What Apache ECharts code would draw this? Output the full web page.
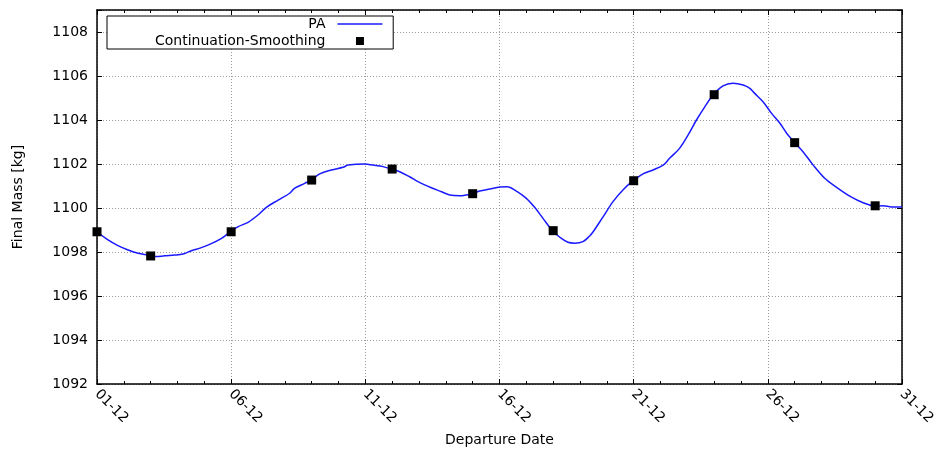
<!DOCTYPE html>
<html>
<head>
<meta charset="utf-8">
<title>Final Mass vs Departure Date</title>
<script src="https://cdn.jsdelivr.net/npm/echarts@6/dist/echarts.min.js"></script>
<style>
  html, body { margin: 0; padding: 0; background: #fff; }
  #chart { width: 941px; height: 457px; }
</style>
</head>
<body>
<div id="chart"></div>
<script>
// PA solution: departure day offset from 01-12 and final mass [kg]
var dayPA = [
  0.00, 0.41, 0.78, 1.16, 1.53, 1.90, 2.21, 2.52, 2.89, 3.21, 3.52, 3.89, 4.26, 4.64, 4.95,
  5.26, 5.63, 6.00, 6.31, 6.75, 7.18, 7.37, 7.74, 7.99, 8.30, 8.74, 9.17, 9.36, 9.98, 10.29,
  10.66, 10.97, 11.28, 11.65, 11.96, 12.21, 12.46, 12.84, 13.15, 13.52, 13.99, 14.26, 14.64,
  15.01, 15.28, 15.63, 16.00, 16.31, 16.62, 16.97, 17.25, 17.55, 17.80, 18.11, 18.36, 18.49,
  18.86, 19.23, 19.60, 19.97, 20.35, 20.72, 21.10, 21.34, 21.71, 22.03, 22.34, 22.65, 22.96,
  23.33, 23.70, 24.08, 24.33, 24.51, 24.82, 25.14, 25.45, 25.70, 26.00, 26.31, 26.69, 27.12,
  27.56, 28.12, 28.55, 28.99, 29.30, 29.61, 30.00
];
var massPA = [
  1098.92, 1098.55, 1098.29, 1098.09, 1097.94, 1097.86, 1097.79, 1097.83, 1097.86, 1097.91,
  1098.06, 1098.20, 1098.38, 1098.62, 1098.90, 1099.15, 1099.35, 1099.68, 1100.03, 1100.36,
  1100.67, 1100.90, 1101.12, 1101.27, 1101.55, 1101.73, 1101.85, 1101.95, 1102.00, 1101.95,
  1101.88, 1101.77, 1101.65, 1101.42, 1101.20, 1101.05, 1100.92, 1100.74, 1100.59, 1100.56,
  1100.65, 1100.77, 1100.86, 1100.95, 1100.97, 1100.77, 1100.44, 1100.03, 1099.53, 1098.97,
  1098.67, 1098.44, 1098.40, 1098.47, 1098.73, 1098.92, 1099.60, 1100.29, 1100.82, 1101.23,
  1101.55, 1101.73, 1101.95, 1102.26, 1102.71, 1103.32, 1104.00, 1104.60, 1105.14, 1105.55,
  1105.67, 1105.59, 1105.44, 1105.21, 1104.83, 1104.30, 1103.85, 1103.40, 1102.97, 1102.56,
  1101.95, 1101.35, 1100.94, 1100.49, 1100.24, 1100.09, 1100.10, 1100.05, 1100.05
];

// Continuation-smoothing solutions
var dayCS = [0, 2, 5, 8, 11, 14, 17, 20, 23, 26, 29];
var massCS = [1098.92, 1097.82, 1098.92, 1101.27, 1101.77, 1100.65, 1098.97, 1101.24, 1105.15, 1102.97, 1100.10];

// Axis tick labels
var xTickLabels = ['01-12', '06-12', '11-12', '16-12', '21-12', '26-12', '31-12'];
var yTickValues = [1092, 1094, 1096, 1098, 1100, 1102, 1104, 1106, 1108];

function zip(xs, ys) {
  return xs.map(function (x, i) { return [x, ys[i]]; });
}

var FONT = 'DejaVu Sans';
var LINE_BLUE = '#1a1aff';
var gridLine = { show: true, lineStyle: { color: '#9a9a9a', width: 1, type: [1, 2] } };

var chart = echarts.init(document.getElementById('chart'), null, { renderer: 'canvas' });

chart.setOption({
  animation: false,
  backgroundColor: '#ffffff',
  textStyle: { fontFamily: FONT, color: '#000' },
  grid: { left: 97, right: 39, top: 10, bottom: 73, containLabel: false },
  legend: {
    left: 107,
    top: 16,
    orient: 'vertical',
    align: 'right',
    itemWidth: 45,
    itemHeight: 8,
    itemGap: 3,
    symbolKeepAspect: true,
    padding: [1, 10, 1, 48],
    borderColor: '#000',
    borderWidth: 1,
    backgroundColor: '#fff',
    selectedMode: false,
    textStyle: { fontFamily: FONT, fontSize: 14, color: '#000', padding: [0, 7, 0, 0] },
    data: [
      { name: 'PA', itemStyle: { opacity: 0 }, lineStyle: { color: LINE_BLUE, width: 1.5 } },
      { name: 'Continuation-Smoothing', icon: 'path://M0,0L10,0L10,10L0,10Z', itemStyle: { color: '#000', opacity: 1 } }
    ]
  },
  xAxis: [
    {
      type: 'value',
      min: 0,
      max: 30,
      interval: 5,
      name: 'Departure Date',
      nameLocation: 'middle',
      nameGap: 49,
      nameTextStyle: { fontFamily: FONT, fontSize: 14, color: '#000' },
      axisLine: { show: true, onZero: false, lineStyle: { color: '#000', width: 1.5 } },
      axisTick: { show: true, inside: true, length: 5, lineStyle: { color: '#000' } },
      minorTick: { show: true, splitNumber: 5, length: 3, lineStyle: { color: '#000' } },
      axisLabel: {
        rotate: -45,
        margin: 8,
        fontFamily: FONT,
        fontSize: 14,
        color: '#000',
        formatter: function (v) { return xTickLabels[Math.round(v / 5)] || ''; }
      },
      splitLine: gridLine
    },
    {
      type: 'value',
      position: 'top',
      min: 0,
      max: 30,
      interval: 5,
      axisLine: { show: true, onZero: false, lineStyle: { color: '#000', width: 1.5 } },
      axisTick: { show: true, inside: true, length: 5, lineStyle: { color: '#000' } },
      minorTick: { show: true, splitNumber: 5, length: 3, lineStyle: { color: '#000' } },
      axisLabel: { show: false },
      splitLine: { show: false }
    }
  ],
  yAxis: [
    {
      type: 'value',
      min: 1092,
      max: 1109,
      interval: 2,
      name: 'Final Mass [kg]',
      nameLocation: 'middle',
      nameGap: 72,
      nameRotate: 90,
      nameTextStyle: { fontFamily: FONT, fontSize: 14, color: '#000' },
      axisLine: { show: true, onZero: false, lineStyle: { color: '#000', width: 1.5 } },
      axisTick: { show: true, inside: true, length: 5, lineStyle: { color: '#000' } },
      axisLabel: {
        margin: 9,
        fontFamily: FONT,
        fontSize: 14,
        color: '#000',
        formatter: function (v) { return yTickValues.indexOf(v) >= 0 ? String(v) : ''; }
      },
      splitLine: gridLine
    },
    {
      type: 'value',
      position: 'right',
      min: 1092,
      max: 1109,
      interval: 2,
      axisLine: { show: true, onZero: false, lineStyle: { color: '#000', width: 1.5 } },
      axisTick: { show: true, inside: true, length: 5, lineStyle: { color: '#000' } },
      axisLabel: { show: false },
      splitLine: { show: false }
    }
  ],
  series: [
    {
      name: 'PA',
      type: 'line',
      xAxisIndex: 0,
      yAxisIndex: 0,
      data: zip(dayPA, massPA),
      symbol: 'none',
      showSymbol: false,
      smooth: 0.35,
      lineStyle: { color: LINE_BLUE, width: 1.5 },
      itemStyle: { color: LINE_BLUE },
      z: 3
    },
    {
      name: 'Continuation-Smoothing',
      type: 'scatter',
      xAxisIndex: 0,
      yAxisIndex: 0,
      data: zip(dayCS, massCS),
      symbol: 'rect',
      symbolSize: 9,
      itemStyle: { color: '#000', opacity: 1 },
      z: 4
    }
  ]
});
</script>
</body>
</html>
